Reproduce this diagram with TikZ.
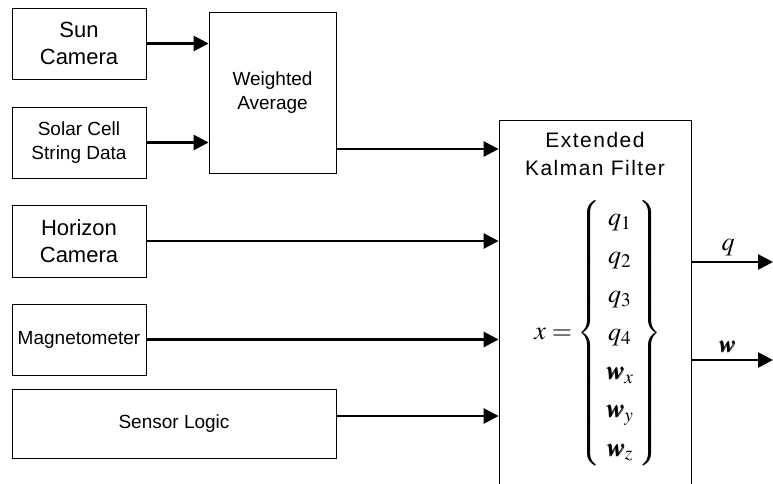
\documentclass[tikz,border=0pt]{standalone}
\usepackage{mathptmx}
\usepackage[no-math]{fontspec}
\setmainfont{Liberation Sans}
\usepackage{bm}
\usetikzlibrary{arrows.meta}

\begin{document}
\begin{tikzpicture}[x=1pt,y=1pt,yscale=-1,
  blk/.style={draw,line width=0.8pt,align=center,inner sep=0pt},
  sig/.style={line width=2.7pt,-{Triangle[length=15pt,width=15pt]}},
  bigtxt/.style={font=\fontsize{22}{27}\selectfont},
  smalltxt/.style={font=\fontsize{19}{24}\selectfont}]
\useasboundingbox (0,0) rectangle (773,484);

%Shape: Rectangle [Sun Camera]
\node (sun) [blk,bigtxt,minimum width=134pt,minimum height=71pt] at (79,43.5) {Sun\\Camera};
%Shape: Rectangle [Solar Cell]
\node (solar) [blk,smalltxt,minimum width=134pt,minimum height=71pt] at (79,142.5) {Solar Cell\\String Data};
%Shape: Rectangle [Weighted Average]
\node (wavg) [blk,smalltxt,minimum width=127pt,minimum height=161pt] at (272.5,92.5) {Weighted\\Average};
%Shape: Rectangle [Horizon Camera]
\node (hor) [blk,bigtxt,minimum width=134pt,minimum height=72pt] at (79,241) {Horizon\\Camera};
%Shape: Rectangle [Magnetometer]
\node (mag) [blk,smalltxt,minimum width=134pt,minimum height=71pt] at (79,339.5) {Magnetometer};
%Shape: Rectangle [Sensor Logic]
\node (slog) [blk,smalltxt,minimum width=324pt,minimum height=69pt] at (174,423.5) {Sensor Logic};
%Shape: Rectangle [Extended Kalman Filter]
\node (ekf) [blk,minimum width=192pt,minimum height=380pt] at (595,310) {};

% Text Node
\node (ekftitle) [align=center,font=\fontsize{21}{28}\selectfont\addfontfeatures{LetterSpace=7}] at (595,154) {Extended\\Kalman Filter};
% Text Node
\node (state) [font=\fontsize{26}{31}\selectfont] at (598,333)
  {$\renewcommand{\arraystretch}{1.24}x = \left\{\begin{array}{c}
    q_{1}\\ q_{2}\\ q_{3}\\ q_{4}\\ \bm{w}_{x}\\ \bm{w}_{y}\\ \bm{w}_{z}
  \end{array}\right\}$};

%Straight Lines [inputs]
\draw [sig] (sun.east) -- (sun.east -| wavg.west);
\draw [sig] (solar.east) -- (solar.east -| wavg.west);
\draw [sig] ([yshift=56.5pt]wavg.east) coordinate (wout) -- (wout -| ekf.west);
\draw [sig] (hor.east) -- (hor.east -| ekf.west);
\draw [sig] (mag.east) -- (mag.east -| ekf.west);
\draw [sig] ([yshift=-7.5pt]slog.east) coordinate (sout) -- (sout -| ekf.west);

%Straight Lines [outputs]
\coordinate (qend) at (773,262);
\coordinate (wend) at (773,360);
\draw [sig] (ekf.east |- qend) -- (qend);
\draw [sig] (ekf.east |- wend) -- (wend);

% Text Node
\node (qlbl) [font=\fontsize{26}{31}\selectfont] at (728,248) {$q$};
% Text Node
\node (wlbl) [font=\fontsize{24}{28}\selectfont] at (727,347) {$\bm{w}$};

\end{tikzpicture}
\end{document}
